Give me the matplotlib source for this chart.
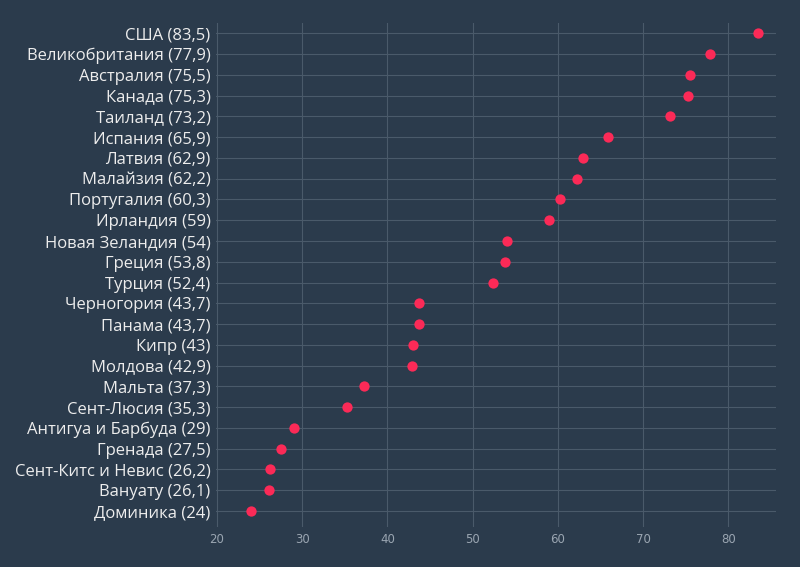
import matplotlib
matplotlib.use("Agg")
import matplotlib.pyplot as plt

countries = ["США", "Великобритания", "Австралия", "Канада", "Таиланд", "Испания",
             "Латвия", "Малайзия", "Португалия", "Ирландия", "Новая Зеландия", "Греция",
             "Турция", "Черногория", "Панама", "Кипр", "Молдова", "Мальта", "Сент-Люсия",
             "Антигуа и Барбуда", "Гренада", "Сент-Китс и Невис", "Вануату", "Доминика"]
values = [83.5, 77.9, 75.5, 75.3, 73.2, 65.9, 62.9, 62.2, 60.3, 59, 54, 53.8, 52.4,
          43.7, 43.7, 43, 42.9, 37.3, 35.3, 29, 27.5, 26.2, 26.1, 24]
xticks = [20, 30, 40, 50, 60, 70, 80]

def fmt(v):
    s = f"{v:g}"
    return s.replace(".", ",")

labels = [f"{c} ({fmt(v)})" for c, v in zip(countries, values)]

bg = "#2b3b4c"
fig = plt.figure(figsize=(8, 5.67), dpi=100, facecolor=bg)
ax = fig.add_axes([0.27, 0.0705, 0.70, 0.8885], facecolor=bg)

n = len(values)
ypos = list(range(n - 1, -1, -1))
ax.scatter(values, ypos, s=55, color="#fb2a57", zorder=3, linewidths=0)

ax.set_yticks(ypos)
ax.set_yticklabels(labels, fontsize=12, color="#ededed", family="Open Sans")
ax.set_xticks(xticks)
ax.set_xticklabels([str(t) for t in xticks], fontsize=8.5, color="#9aa5b1")
ax.set_xlim(19.9, 85.6)
ax.set_ylim(-0.77, n - 1 + 0.48)

ax.grid(True, color="#4a5a6a", linewidth=0.8, zorder=0)
ax.set_axisbelow(True)
for s in ax.spines.values():
    s.set_visible(False)
ax.tick_params(axis="both", length=0)
ax.tick_params(axis="y", pad=4)
ax.tick_params(axis="x", pad=4)

fig.savefig("out.png", dpi=100, facecolor=bg)
